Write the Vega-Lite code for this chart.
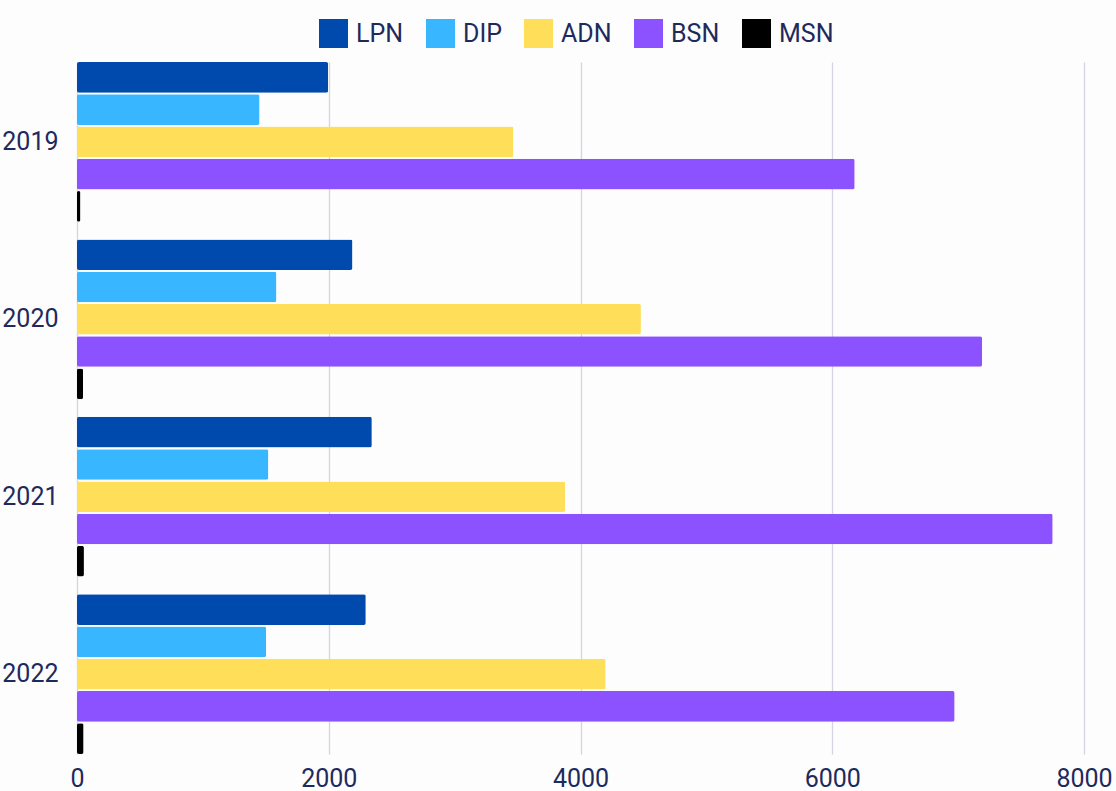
{
  "$schema": "https://vega.github.io/schema/vega-lite/v6.json",
  "width": 1007,
  "height": 692,
  "autosize": {"type": "none"},
  "padding": {"left": 77, "top": 62, "right": 32, "bottom": 37},
  "background": "#fdfdfd",
  "data": {
    "values": [
      {"year": "2019", "level": "LPN", "value": 1995},
      {"year": "2019", "level": "DIP", "value": 1450},
      {"year": "2019", "level": "ADN", "value": 3467},
      {"year": "2019", "level": "BSN", "value": 6178},
      {"year": "2019", "level": "MSN", "value": 27},
      {"year": "2020", "level": "LPN", "value": 2188},
      {"year": "2020", "level": "DIP", "value": 1584},
      {"year": "2020", "level": "ADN", "value": 4480},
      {"year": "2020", "level": "BSN", "value": 7190},
      {"year": "2020", "level": "MSN", "value": 48},
      {"year": "2021", "level": "LPN", "value": 2342},
      {"year": "2021", "level": "DIP", "value": 1520},
      {"year": "2021", "level": "ADN", "value": 3878},
      {"year": "2021", "level": "BSN", "value": 7751},
      {"year": "2021", "level": "MSN", "value": 55},
      {"year": "2022", "level": "LPN", "value": 2294},
      {"year": "2022", "level": "DIP", "value": 1502},
      {"year": "2022", "level": "ADN", "value": 4199},
      {"year": "2022", "level": "BSN", "value": 6972},
      {"year": "2022", "level": "MSN", "value": 52}
    ]
  },
  "mark": {"type": "bar", "cornerRadius": 2},
  "encoding": {
    "y": {
      "field": "year",
      "type": "nominal",
      "sort": ["2019", "2020", "2021", "2022"],
      "scale": {"paddingInner": 0.1, "paddingOuter": 0},
      "axis": {
        "title": null,
        "ticks": false,
        "domain": false,
        "grid": false,
        "labelFont": "Roboto",
        "labelFontSize": 25,
        "labelColor": "#1e2a5c",
        "labelPadding": 19
      }
    },
    "yOffset": {
      "field": "level",
      "type": "nominal",
      "sort": ["LPN", "DIP", "ADN", "BSN", "MSN"],
      "scale": {"paddingInner": 0.05, "paddingOuter": 0}
    },
    "x": {
      "field": "value",
      "type": "quantitative",
      "scale": {"domain": [0, 8000], "nice": false},
      "axis": {
        "title": null,
        "values": [0, 2000, 4000, 6000, 8000],
        "format": "d",
        "ticks": false,
        "domain": false,
        "grid": true,
        "gridColor": "#d4d4e4",
        "gridWidth": 1.3,
        "labelFlush": false,
        "labelFont": "Roboto",
        "labelFontSize": 25,
        "labelColor": "#1e2a5c",
        "labelPadding": 12
      }
    },
    "color": {
      "field": "level",
      "type": "nominal",
      "sort": ["LPN", "DIP", "ADN", "BSN", "MSN"],
      "scale": {
        "domain": ["LPN", "DIP", "ADN", "BSN", "MSN"],
        "range": ["#004aad", "#38b6ff", "#ffde59", "#8c52ff", "#000000"]
      },
      "legend": {
        "title": null,
        "orient": "none",
        "legendX": 242,
        "legendY": -43,
        "direction": "horizontal",
        "symbolType": "square",
        "symbolSize": 841,
        "symbolStrokeWidth": 0,
        "labelFont": "Roboto",
        "labelFontSize": 25,
        "labelColor": "#1e2a5c",
        "labelOffset": 8,
        "columnPadding": 22,
        "padding": 0
      }
    }
  },
  "config": {"view": {"stroke": null}}
}
